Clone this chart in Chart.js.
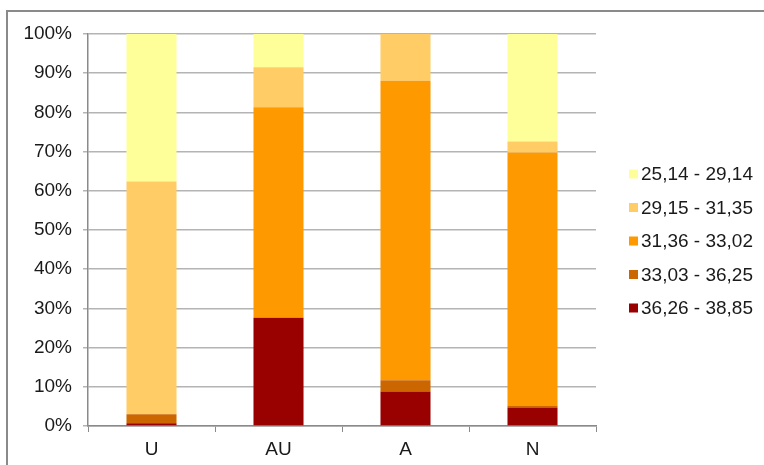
<!DOCTYPE html>
<html>
<head>
<meta charset="utf-8">
<script src="https://cdn.jsdelivr.net/npm/chart.js@4"></script>
<style>
    html, body { margin: 0; padding: 0; background: #fff; overflow: hidden; }
    #wrap { position: relative; width: 764px; height: 465px; overflow: hidden; }
    #frame { position: absolute; left: 6px; top: 10px; width: 758px; height: 455px; border-top: 2px solid #8a8a8a; border-left: 2px solid #8a8a8a; box-sizing: border-box; }
    canvas { position: absolute; left: 0; top: 0; }
</style>
</head>
<body>
<div id="wrap">
    <div id="frame"></div>
    <canvas id="chart" width="764" height="465"></canvas>
</div>
<script>
// Data
const categories = ['U', 'AU', 'A', 'N'];
const seriesLabels = ['36,26 - 38,85', '33,03 - 36,25', '31,36 - 33,02', '29,15 - 31,35', '25,14 - 29,14'];
const seriesColors = ['#990000', '#CC6600', '#FF9900', '#FFCC66', '#FFFF99'];
const range36to38 = [0.7, 27.6, 8.8, 4.7];
const range33to36 = [2.3, 0, 2.9, 0.5];
const range31to33 = [0, 53.7, 76.4, 64.6];
const range29to31 = [59.4, 10.2, 11.9, 2.8];
const range25to29 = [37.6, 8.5, 0, 27.4];
const seriesValues = [range36to38, range33to36, range31to33, range29to31, range25to29];
const yTicks = [0, 10, 20, 30, 40, 50, 60, 70, 80, 90, 100];

const FONT = '"Liberation Sans", Arial, sans-serif';

// Legend drawn on the right, top entry = top of the stack
const sideLegend = {
    id: 'sideLegend',
    afterDraw(chart) {
        const ctx = chart.ctx;
        ctx.save();
        ctx.font = '19px ' + FONT;
        ctx.textBaseline = 'middle';
        const items = chart.data.datasets.slice().reverse();
        items.forEach((ds, i) => {
            const y = 174 + i * 33.5;
            ctx.fillStyle = ds.backgroundColor;
            ctx.fillRect(629, y - 4.5, 9, 9);
            ctx.fillStyle = '#1a1a1a';
            ctx.fillText(ds.label, 641, y + 1);
        });
        ctx.restore();
    }
};

new Chart(document.getElementById('chart'), {
    type: 'bar',
    data: {
        labels: categories,
        datasets: seriesLabels.map((label, i) => ({
            label: label,
            data: seriesValues[i],
            backgroundColor: seriesColors[i],
            borderWidth: 0,
            categoryPercentage: 1,
            barPercentage: 0.394
        }))
    },
    options: {
        responsive: false,
        animation: false,
        layout: { padding: { left: 8, top: 34, right: 168, bottom: 0 } },
        plugins: {
            legend: { display: false },
            tooltip: { enabled: false }
        },
        scales: {
            x: {
                stacked: true,
                grid: { drawOnChartArea: false, drawTicks: true, tickLength: 6, color: '#8a8a8a', offset: true },
                border: { color: '#8a8a8a', width: 1.5 },
                ticks: { color: '#1a1a1a', font: { family: FONT, size: 19 }, padding: 6 },
                afterFit(scale) { scale.height = 39; }
            },
            y: {
                stacked: true,
                min: 0,
                max: 100,
                afterBuildTicks(scale) { scale.ticks = yTicks.map(v => ({ value: v })); },
                grid: { color: '#b4b4b4', lineWidth: 1.5, tickLength: 5 },
                border: { color: '#8a8a8a', width: 1.5 },
                ticks: {
                    color: '#1a1a1a',
                    font: { family: FONT, size: 19 },
                    padding: 11,
                    callback: v => v + '%'
                },
                afterFit(scale) { scale.width = 80; }
            }
        }
    },
    plugins: [sideLegend]
});
</script>
</body>
</html>
